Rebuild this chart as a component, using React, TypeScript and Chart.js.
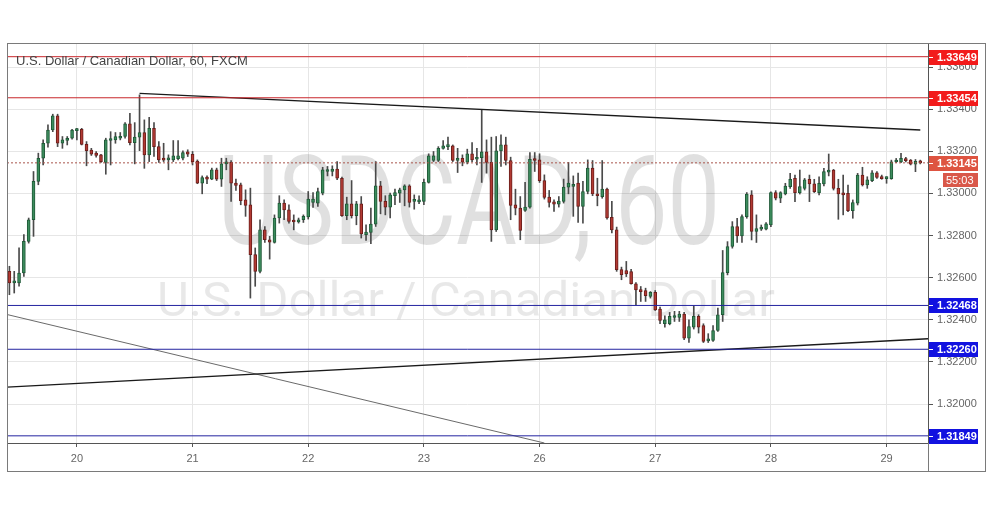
import React, { useEffect, useRef } from 'react';
import { Chart, registerables } from 'chart.js';

Chart.register(...registerables);

// ---- data (hourly candles, bar index 0..189) ----
const opens = [
  1.32630, 1.32575, 1.32575, 1.32622, 1.32772, 1.32875, 1.33057, 1.33167, 1.33238, 1.33301,
  1.33368, 1.33238, 1.33251, 1.33262, 1.33298, 1.33304, 1.33233, 1.33206, 1.33191, 1.33183,
  1.33147, 1.33251, 1.33254, 1.33262, 1.33270, 1.33330, 1.33241, 1.33267, 1.33289, 1.33183,
  1.33309, 1.33222, 1.33164, 1.33159, 1.33159, 1.33165, 1.33167, 1.33197, 1.33186, 1.33154,
  1.33049, 1.33075, 1.33068, 1.33112, 1.33068, 1.33140, 1.33147, 1.33049, 1.33041, 1.32970,
  1.32946, 1.32709, 1.32630, 1.32827, 1.32780, 1.32767, 1.32883, 1.32954, 1.32922, 1.32867,
  1.32864, 1.32875, 1.32888, 1.32957, 1.32954, 1.33001, 1.33104, 1.33104, 1.33116, 1.33072,
  1.32894, 1.32951, 1.32894, 1.32951, 1.32804, 1.32815, 1.32854, 1.33036, 1.32962, 1.32935,
  1.32989, 1.33001, 1.33017, 1.33036, 1.32962, 1.32960, 1.32962, 1.33052, 1.33156, 1.33156,
  1.33214, 1.33222, 1.33226, 1.33156, 1.33167, 1.33148, 1.33188, 1.33162, 1.33170, 1.33197,
  1.33147, 1.32827, 1.33202, 1.33230, 1.33156, 1.32946, 1.32930, 1.32919, 1.32935, 1.33162,
  1.33159, 1.33061, 1.32982, 1.32960, 1.32949, 1.32962, 1.33030, 1.33033, 1.33049, 1.32938,
  1.33009, 1.33120, 1.32998, 1.32985, 1.33020, 1.32886, 1.32827, 1.32638, 1.32634, 1.32629,
  1.32571, 1.32542, 1.32539, 1.32511, 1.32530, 1.32451, 1.32381, 1.32381, 1.32411, 1.32411,
  1.32427, 1.32313, 1.32365, 1.32416, 1.32372, 1.32300, 1.32302, 1.32349, 1.32424, 1.32624,
  1.32748, 1.32842, 1.32798, 1.32890, 1.32993, 1.32819, 1.32830, 1.32830, 1.32850, 1.33004,
  1.32977, 1.32997, 1.33032, 1.33071, 1.33004, 1.33024, 1.33067, 1.33045, 1.33004, 1.33045,
  1.33101, 1.33111, 1.33024, 1.32997, 1.33000, 1.32918, 1.32953, 1.33087, 1.33040, 1.33060,
  1.33098, 1.33079, 1.33070, 1.33070, 1.33149, 1.33149, 1.33165, 1.33158, 1.33139, 1.33150,
];
const highs = [
  1.32654, 1.32630, 1.32741, 1.32804, 1.32883, 1.33104, 1.33191, 1.33254, 1.33325, 1.33376,
  1.33376, 1.33270, 1.33270, 1.33304, 1.33309, 1.33309, 1.33246, 1.33214, 1.33199, 1.33186,
  1.33262, 1.33293, 1.33289, 1.33289, 1.33336, 1.33380, 1.33336, 1.33468, 1.33349, 1.33361,
  1.33336, 1.33246, 1.33238, 1.33183, 1.33251, 1.33251, 1.33202, 1.33207, 1.33199, 1.33159,
  1.33083, 1.33083, 1.33120, 1.33120, 1.33167, 1.33167, 1.33156, 1.33068, 1.33049, 1.33017,
  1.33025, 1.32741, 1.32875, 1.32843, 1.32796, 1.32898, 1.32989, 1.32970, 1.32946, 1.32898,
  1.32883, 1.32898, 1.33009, 1.33004, 1.33025, 1.33124, 1.33128, 1.33131, 1.33151, 1.33077,
  1.32982, 1.33061, 1.32962, 1.32985, 1.32851, 1.32930, 1.33151, 1.33057, 1.32989, 1.33001,
  1.33020, 1.33025, 1.33041, 1.33041, 1.32993, 1.32989, 1.33068, 1.33188, 1.33199, 1.33222,
  1.33251, 1.33267, 1.33230, 1.33214, 1.33183, 1.33210, 1.33241, 1.33214, 1.33399, 1.33254,
  1.33267, 1.33270, 1.33278, 1.33267, 1.33172, 1.33020, 1.32985, 1.33052, 1.33194, 1.33194,
  1.33188, 1.33088, 1.33014, 1.32970, 1.32985, 1.33068, 1.33147, 1.33083, 1.33096, 1.33057,
  1.33159, 1.33156, 1.33072, 1.33156, 1.33025, 1.32962, 1.32840, 1.32650, 1.32677, 1.32640,
  1.32577, 1.32558, 1.32550, 1.32534, 1.32539, 1.32460, 1.32419, 1.32435, 1.32440, 1.32440,
  1.32435, 1.32400, 1.32466, 1.32424, 1.32381, 1.32334, 1.32372, 1.32455, 1.32729, 1.32771,
  1.32866, 1.32882, 1.32898, 1.33004, 1.33013, 1.32898, 1.32850, 1.32861, 1.33008, 1.33013,
  1.33008, 1.33048, 1.33095, 1.33087, 1.33111, 1.33071, 1.33087, 1.33067, 1.33079, 1.33119,
  1.33187, 1.33114, 1.33067, 1.33087, 1.33040, 1.32969, 1.33095, 1.33124, 1.33079, 1.33108,
  1.33103, 1.33087, 1.33079, 1.33158, 1.33166, 1.33190, 1.33171, 1.33161, 1.33161, 1.33158,
];
const lows = [
  1.32519, 1.32527, 1.32559, 1.32606, 1.32764, 1.32796, 1.33041, 1.33135, 1.33219, 1.33293,
  1.33222, 1.33214, 1.33230, 1.33257, 1.33254, 1.33230, 1.33131, 1.33180, 1.33172, 1.33147,
  1.33091, 1.33135, 1.33238, 1.33254, 1.33262, 1.33230, 1.33140, 1.33203, 1.33119, 1.33151,
  1.33175, 1.33147, 1.33151, 1.33112, 1.33151, 1.33159, 1.33159, 1.33175, 1.33135, 1.33046,
  1.32998, 1.33046, 1.33065, 1.33061, 1.33033, 1.33112, 1.32962, 1.33014, 1.32946, 1.32891,
  1.32503, 1.32559, 1.32622, 1.32767, 1.32688, 1.32764, 1.32859, 1.32875, 1.32859, 1.32827,
  1.32859, 1.32862, 1.32878, 1.32933, 1.32938, 1.32993, 1.33083, 1.33083, 1.33065, 1.32891,
  1.32875, 1.32883, 1.32851, 1.32788, 1.32777, 1.32761, 1.32843, 1.32903, 1.32898, 1.32883,
  1.32946, 1.32957, 1.32941, 1.32935, 1.32925, 1.32951, 1.32946, 1.33049, 1.33151, 1.33151,
  1.33210, 1.33207, 1.33151, 1.33099, 1.33131, 1.33140, 1.33151, 1.33135, 1.33052, 1.33096,
  1.32772, 1.32819, 1.33128, 1.33135, 1.32875, 1.32898, 1.32780, 1.32914, 1.32930, 1.33104,
  1.33052, 1.32973, 1.32935, 1.32914, 1.32935, 1.32954, 1.32998, 1.32891, 1.32862, 1.32859,
  1.32998, 1.32989, 1.32941, 1.32977, 1.32878, 1.32812, 1.32630, 1.32590, 1.32605, 1.32569,
  1.32471, 1.32487, 1.32487, 1.32503, 1.32444, 1.32381, 1.32365, 1.32376, 1.32392, 1.32392,
  1.32305, 1.32292, 1.32356, 1.32337, 1.32292, 1.32292, 1.32297, 1.32345, 1.32392, 1.32613,
  1.32740, 1.32767, 1.32767, 1.32882, 1.32779, 1.32767, 1.32824, 1.32827, 1.32842, 1.32969,
  1.32956, 1.32993, 1.33024, 1.32961, 1.32997, 1.33016, 1.32961, 1.33004, 1.32993, 1.33035,
  1.33083, 1.33016, 1.32877, 1.32898, 1.32913, 1.32882, 1.32945, 1.33035, 1.33024, 1.33056,
  1.33071, 1.33067, 1.33048, 1.33067, 1.33146, 1.33146, 1.33149, 1.33135, 1.33103, 1.33140,
];
const closes = [
  1.32575, 1.32580, 1.32622, 1.32772, 1.32875, 1.33057, 1.33167, 1.33238, 1.33301, 1.33368,
  1.33238, 1.33254, 1.33262, 1.33301, 1.33304, 1.33233, 1.33203, 1.33186, 1.33180, 1.33151,
  1.33254, 1.33257, 1.33270, 1.33270, 1.33330, 1.33241, 1.33267, 1.33289, 1.33183, 1.33309,
  1.33222, 1.33159, 1.33158, 1.33162, 1.33178, 1.33178, 1.33194, 1.33186, 1.33151, 1.33049,
  1.33075, 1.33068, 1.33112, 1.33068, 1.33140, 1.33147, 1.33049, 1.33038, 1.32966, 1.32943,
  1.32709, 1.32630, 1.32827, 1.32780, 1.32769, 1.32883, 1.32954, 1.32922, 1.32867, 1.32864,
  1.32875, 1.32891, 1.32973, 1.32973, 1.33009, 1.33112, 1.33112, 1.33116, 1.33072, 1.32894,
  1.32951, 1.32894, 1.32951, 1.32808, 1.32816, 1.32854, 1.33036, 1.32962, 1.32935, 1.32993,
  1.33004, 1.33017, 1.33036, 1.32957, 1.32965, 1.32965, 1.33052, 1.33178, 1.33178, 1.33214,
  1.33226, 1.33226, 1.33156, 1.33167, 1.33148, 1.33188, 1.33159, 1.33170, 1.33197, 1.33147,
  1.32827, 1.33202, 1.33230, 1.33156, 1.32943, 1.32930, 1.32824, 1.32935, 1.33162, 1.33156,
  1.33061, 1.32981, 1.32957, 1.32949, 1.32963, 1.33030, 1.33049, 1.33041, 1.32938, 1.33009,
  1.33120, 1.32998, 1.32989, 1.33020, 1.32883, 1.32827, 1.32638, 1.32614, 1.32618, 1.32571,
  1.32542, 1.32534, 1.32514, 1.32530, 1.32447, 1.32397, 1.32400, 1.32416, 1.32416, 1.32427,
  1.32313, 1.32368, 1.32416, 1.32365, 1.32297, 1.32305, 1.32349, 1.32424, 1.32624, 1.32748,
  1.32842, 1.32798, 1.32890, 1.32997, 1.32819, 1.32833, 1.32840, 1.32855, 1.33004, 1.32977,
  1.33004, 1.33035, 1.33067, 1.33004, 1.33032, 1.33064, 1.33045, 1.33008, 1.33048, 1.33103,
  1.33108, 1.33024, 1.32997, 1.32993, 1.32918, 1.32956, 1.33087, 1.33040, 1.33064, 1.33098,
  1.33076, 1.33070, 1.33073, 1.33150, 1.33152, 1.33166, 1.33155, 1.33139, 1.33152, 1.33145,
];

const dayLabels = ['20', '21', '22', '23', '26', '27', '28', '29'];
const dayStartBars = [14, 38, 62, 86, 110, 134, 158, 182];
const priceTicks = [1.320, 1.322, 1.324, 1.326, 1.328, 1.330, 1.332, 1.334, 1.336];

const resistanceLevels = [1.33649, 1.33454];
const supportLevels = [1.32468, 1.32260, 1.31849];
const lastPrice = 1.33145;
const countdown = '55:03';

const upperTrendBars = [27, 189];
const upperTrendPrices = [1.33475, 1.33301];
const lowerTrendBars = [-0.5, 190.6];
const lowerTrendPrices = [1.32080, 1.32310];
const fanLineBars = [-0.5, 111];
const fanLinePrices = [1.32425, 1.31815];

const xMin = -0.5;
const xMax = 190.6;
const yMin = 1.31815;
const yMax = 1.33714;

const titleText = 'U.S. Dollar / Canadian Dollar, 60, FXCM';
const watermarkMain = 'USDCAD, 60';
const watermarkSub = 'U.S. Dollar / Canadian Dollar';

const UP_FILL = '#3c8c5d';
const UP_EDGE = '#1f5937';
const DN_FILL = '#b23a33';
const DN_EDGE = '#6b1e1b';
const WICK = '#4a4a4a';
const RED_LINE = '#c8262b';
const BLUE_LINE = '#2424a0';
const RED_BOX = '#f21b1b';
const BLUE_BOX = '#1212e0';
const LAST_BOX = '#de5441';

function seg(xs: number[], ys: number[]) {
  return xs.map((x, i) => ({ x, y: ys[i] }));
}

export default function App() {
  const ref = useRef<HTMLCanvasElement>(null);

  useEffect(() => {
    document.body.style.margin = '0';
    const canvas = ref.current!;
    const idx = opens.map((_, i) => i);
    const up = idx.map((i) => closes[i] >= opens[i]);

    const levelLine = (v: number, color: string) => ({
      type: 'line' as const,
      data: seg([xMin, xMax], [v, v]),
      borderColor: color,
      borderWidth: 1,
      pointRadius: 0,
      order: 0,
    });

    const fitText = (
      ctx: CanvasRenderingContext2D,
      text: string,
      font: string,
      cx: number,
      baseline: number,
      width: number,
      color: string
    ) => {
      ctx.save();
      ctx.font = font;
      const w = ctx.measureText(text).width;
      ctx.translate(cx, baseline);
      ctx.scale(width / w, 1);
      ctx.textAlign = 'center';
      ctx.textBaseline = 'alphabetic';
      ctx.fillStyle = color;
      ctx.fillText(text, 0, 0);
      ctx.restore();
    };

    const decor = {
      id: 'decor',
      beforeDraw(chart: any) {
        const ctx = chart.ctx as CanvasRenderingContext2D;
        ctx.save();
        ctx.fillStyle = '#ffffff';
        ctx.fillRect(0, 0, chart.width, chart.height);
        ctx.restore();
      },
      beforeDatasetsDraw(chart: any) {
        const ctx = chart.ctx as CanvasRenderingContext2D;
        const a = chart.chartArea;
        ctx.save();
        ctx.beginPath();
        ctx.rect(a.left, a.top, a.right - a.left, a.bottom - a.top);
        ctx.clip();
        fitText(ctx, watermarkMain, '124px Roboto', 469, 244, 502, 'rgba(0,0,0,0.12)');
        fitText(ctx, watermarkSub, '48px Roboto', 466, 316, 618, 'rgba(0,0,0,0.09)');
        ctx.restore();
      },
      afterDatasetsDraw(chart: any) {
        const ctx = chart.ctx as CanvasRenderingContext2D;
        ctx.save();
        ctx.font = '13px "Liberation Sans"';
        ctx.fillStyle = '#444444';
        ctx.textBaseline = 'alphabetic';
        ctx.fillText(titleText, 16, 65);
        ctx.restore();
      },
      afterDraw(chart: any) {
        const ctx = chart.ctx as CanvasRenderingContext2D;
        const y = chart.scales.y;
        const a = chart.chartArea;
        ctx.save();
        // frame
        ctx.strokeStyle = '#7a7a7a';
        ctx.lineWidth = 1;
        ctx.strokeRect(a.left + 0.5, a.top + 0.5, 985 - a.left, 471 - a.top);
        ctx.beginPath();
        ctx.moveTo(a.right + 0.5, a.bottom);
        ctx.lineTo(a.right + 0.5, 471);
        ctx.stroke();

        const box = (v: number, label: string, color: string) => {
          const py = Math.round(y.getPixelForValue(v));
          ctx.fillStyle = color;
          ctx.fillRect(a.right + 1, py - 7, 49, 15);
          ctx.strokeStyle = '#ffffff';
          ctx.beginPath();
          ctx.moveTo(a.right + 1, py + 0.5);
          ctx.lineTo(a.right + 5, py + 0.5);
          ctx.stroke();
          ctx.fillStyle = '#ffffff';
          ctx.font = 'bold 11px "Liberation Sans"';
          ctx.textBaseline = 'middle';
          ctx.textAlign = 'left';
          ctx.fillText(label, a.right + 9, py + 1);
        };
        resistanceLevels.forEach((v) => box(v, v.toFixed(5), RED_BOX));
        supportLevels.forEach((v) => box(v, v.toFixed(5), BLUE_BOX));
        box(lastPrice, lastPrice.toFixed(5), LAST_BOX);
        const py = Math.round(y.getPixelForValue(lastPrice));
        ctx.fillStyle = '#d9584a';
        ctx.fillRect(a.right + 15, py + 10, 35, 14);
        ctx.fillStyle = '#ffffff';
        ctx.font = '11px "Liberation Sans"';
        ctx.textBaseline = 'middle';
        ctx.fillText(countdown, a.right + 18, py + 18);
        ctx.restore();
      },
    };

    const chart = new Chart(canvas, {
      type: 'bar',
      data: {
        datasets: [
          ...resistanceLevels.map((v) => levelLine(v, RED_LINE)),
          ...supportLevels.map((v) => levelLine(v, BLUE_LINE)),
          {
            type: 'line' as const,
            data: seg([xMin, xMax], [lastPrice, lastPrice]),
            borderColor: '#a8554c',
            borderWidth: 1,
            borderDash: [2, 2],
            pointRadius: 0,
            order: 0,
          },
          {
            type: 'line' as const,
            data: seg(upperTrendBars, upperTrendPrices),
            borderColor: '#1a1a1a',
            borderWidth: 1.3,
            pointRadius: 0,
            order: 0,
          },
          {
            type: 'line' as const,
            data: seg(lowerTrendBars, lowerTrendPrices),
            borderColor: '#1a1a1a',
            borderWidth: 1.3,
            pointRadius: 0,
            order: 0,
          },
          {
            type: 'line' as const,
            data: seg(fanLineBars, fanLinePrices),
            borderColor: '#6a6a6a',
            borderWidth: 1,
            pointRadius: 0,
            order: 0,
          },
          {
            type: 'bar' as const,
            data: idx.map((i) => ({ x: i, y: [opens[i], closes[i]] })) as any,
            backgroundColor: idx.map((i) => (up[i] ? UP_FILL : DN_FILL)),
            borderColor: idx.map((i) => (up[i] ? UP_EDGE : DN_EDGE)),
            borderWidth: 1,
            borderSkipped: false,
            barThickness: 3,
            minBarLength: 2,
            grouped: false,
            order: 1,
          },
          {
            type: 'bar' as const,
            data: idx.map((i) => ({ x: i, y: [lows[i], highs[i]] })) as any,
            backgroundColor: WICK,
            borderWidth: 0,
            barThickness: 1,
            grouped: false,
            order: 2,
          },
        ] as any,
      },
      options: {
        animation: false,
        responsive: false,
        devicePixelRatio: 1,
        layout: { padding: { left: 7, top: 43, right: 0, bottom: 0 } },
        plugins: {
          legend: { display: false },
          tooltip: { enabled: false },
        },
        scales: {
          x: {
            type: 'linear',
            min: xMin,
            max: xMax,
            offset: false,
            grid: {
              offset: false,
              color: '#e6e6e6',
              drawTicks: true,
              tickLength: 4,
              tickColor: '#555555',
            },
            border: { display: true, color: '#555555' },
            ticks: {
              autoSkip: false,
              maxRotation: 0,
              padding: 5,
              color: '#666666',
              font: { family: 'Liberation Sans', size: 11 },
              callback: (v: any) => {
                const k = dayStartBars.indexOf(Number(v));
                return k >= 0 ? dayLabels[k] : '';
              },
            },
            afterBuildTicks: (s: any) => {
              s.ticks = dayStartBars.map((v) => ({ value: v }));
            },
            afterFit: (s: any) => {
              s.height = 64;
            },
          },
          y: {
            type: 'linear',
            position: 'right',
            min: yMin,
            max: yMax,
            grid: {
              color: '#e6e6e6',
              drawTicks: true,
              tickLength: 5,
              tickColor: '#555555',
            },
            border: { display: true, color: '#555555' },
            ticks: {
              padding: 4,
              color: '#666666',
              font: { family: 'Liberation Sans', size: 11 },
              callback: (v: any) => Number(v).toFixed(5),
            },
            afterBuildTicks: (s: any) => {
              s.ticks = priceTicks.map((v) => ({ value: v }));
            },
            afterFit: (s: any) => {
              s.width = 63;
            },
          },
        },
      },
      plugins: [decor],
    } as any);

    return () => chart.destroy();
  }, []);

  return (
    <div style={{ width: 991, height: 507 }}>
      <canvas ref={ref} width={991} height={507} style={{ display: 'block', width: 991, height: 507 }} />
    </div>
  );
}
